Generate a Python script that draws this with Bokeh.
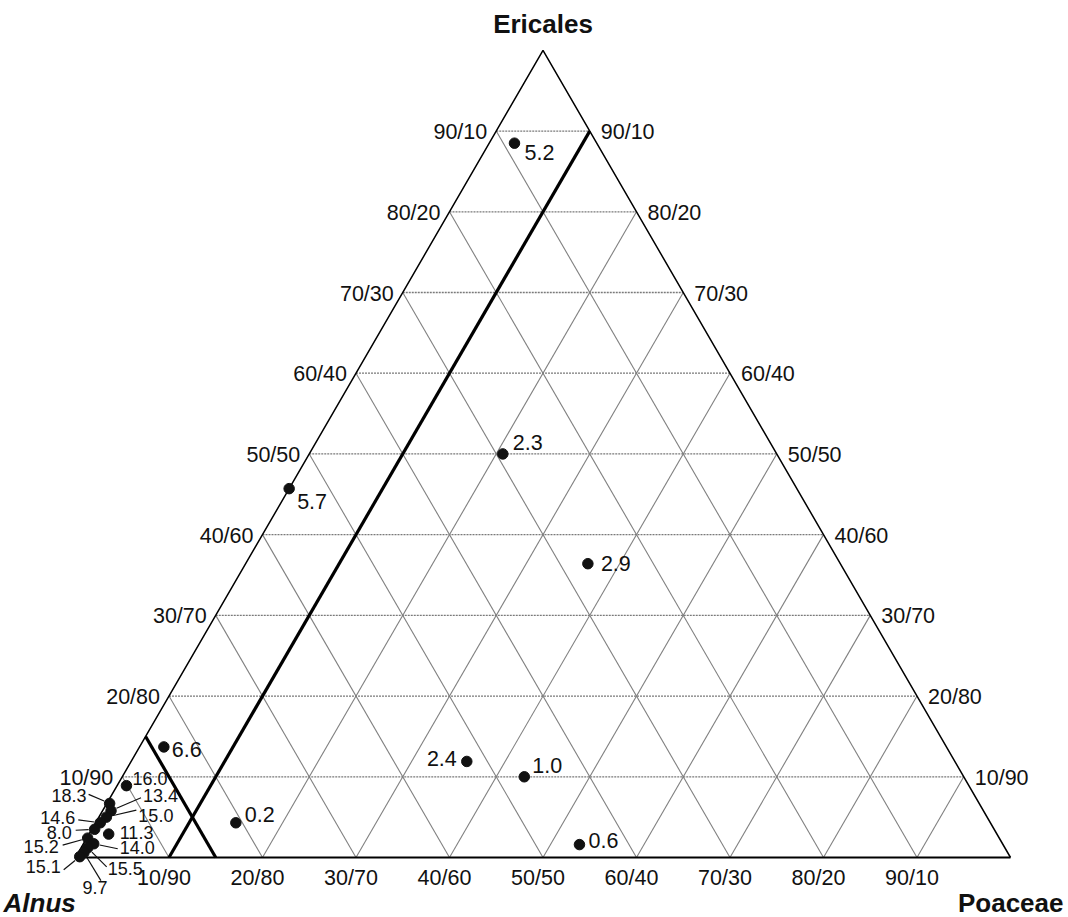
import math
from bokeh.plotting import figure
from bokeh.models import Range1d
from bokeh.core.properties import value
from bokeh.embed import file_html
from bokeh.resources import INLINE

# ---- data: pollen composition (%) of each sample, with its label value ----
main_labels   = ["5.2", "5.7", "2.3", "2.9", "6.6", "0.2", "2.4", "1.0", "0.6"]
main_alnus    = [8.8, 54.3, 29.3, 27.0, 83.7, 80.7, 52.2, 47.0, 45.3]
main_poaceae  = [2.7, 0.0, 20.7, 36.6, 2.6, 15.0, 35.9, 43.0, 53.1]
main_ericales = [88.5, 45.7, 50.0, 36.4, 13.7, 4.3, 11.9, 10.0, 1.6]

# samples crowded near the Alnus corner (labelled with leader lines)
cluster_labels   = ["16.0", "18.3", "13.4", "15.0", "14.6", "8.0",
                    "11.3", "15.2", "14.0", "15.5", "9.7", "15.1"]
cluster_alnus    = [90.1, 93.0, 93.3, 94.2, 95.2, 96.2, 95.0, 97.5, 97.2, 98.1, 98.8, 99.5]
cluster_poaceae  = [1.0, 0.3, 0.9, 0.8, 0.5, 0.3, 2.1, 0.1, 1.1, 0.7, 0.6, 0.4]
cluster_ericales = [8.9, 6.7, 5.8, 5.0, 4.3, 3.5, 2.9, 2.4, 1.7, 1.2, 0.6, 0.1]

# boundary lines
poaceae_limit = 10   # Poaceae = 10 %
alnus_limit = 85     # Alnus = 85 %

grid_steps = [10, 20, 30, 40, 50, 60, 70, 80, 90]
corner_names = ["Alnus", "Poaceae", "Ericales"]

# ---- layout ----
W, H = 1068, 917
SX, SY = 935.0, 932.0          # pixels per unit (x, y)
LEFT_PX, BASE_PX = 75.0, 857.0
FONT = value("Liberation Sans")
INK = "#111111"
SQ3 = math.sqrt(3) / 2


def tern(a, p, e):
    s = a + p + e
    return (p + e / 2.0) / s, (e / s) * SQ3


def shift(pt, dx, dy):
    return pt[0] + dx / SX, pt[1] - dy / SY


p = figure(width=W, height=H, output_backend="svg", toolbar_location=None,
           x_range=Range1d(-LEFT_PX / SX, (W - LEFT_PX) / SX),
           y_range=Range1d(-(H - BASE_PX) / SY, BASE_PX / SY),
           x_axis_type=None, y_axis_type=None, min_border=0)
p.grid.visible = False
p.outline_line_color = None
p.background_fill_color = "white"
p.border_fill_color = "white"

# ---- grid ----
hx0, hy0, hx1, hy1 = [], [], [], []
dx0, dy0, dx1, dy1 = [], [], [], []
for k in grid_steps:
    f = k / 100.0
    a0 = tern(1 - f, 0, f); a1 = tern(0, 1 - f, f)
    hx0.append(a0[0]); hy0.append(a0[1]); hx1.append(a1[0]); hy1.append(a1[1])
    b0 = tern(1 - f, f, 0); b1 = tern(0, f, 1 - f)
    dx0.append(b0[0]); dy0.append(b0[1]); dx1.append(b1[0]); dy1.append(b1[1])
    c0 = tern(f, 1 - f, 0); c1 = tern(f, 0, 1 - f)
    dx0.append(c0[0]); dy0.append(c0[1]); dx1.append(c1[0]); dy1.append(c1[1])

p.segment(x0=dx0, y0=dy0, x1=dx1, y1=dy1, line_color="#808080", line_width=1.1)
p.segment(x0=hx0, y0=hy0, x1=hx1, y1=hy1, line_color="#7a7a7a", line_width=1.3,
          line_dash="2 1")

# ---- triangle ----
va = tern(1, 0, 0); vp = tern(0, 1, 0); ve = tern(0, 0, 1)
p.line([va[0], ve[0], vp[0]], [va[1], ve[1], vp[1]], line_color="black", line_width=1.5)
p.line([va[0], vp[0]], [va[1], vp[1]], line_color="black", line_width=2.2)

# ---- boundary lines ----
fp = poaceae_limit / 100.0
l1a = tern(1 - fp, fp, 0); l1b = tern(0, fp, 1 - fp)
fa = alnus_limit / 100.0
l2a = tern(fa, 1 - fa, 0); l2b = tern(fa, 0, 1 - fa)
p.segment(x0=[l1a[0], l2a[0]], y0=[l1a[1], l2a[1]], x1=[l1b[0], l2b[0]], y1=[l1b[1], l2b[1]],
          line_color="black", line_width=3.2)

# ---- tick labels ----
bx, by, bt = [], [], []
lx, ly, lt = [], [], []
rx, ry, rt = [], [], []
for k in grid_steps:
    f = k / 100.0
    txt = f"{k}/{100 - k}"
    q = shift(tern(1 - f, f, 0), -5, 20); bx.append(q[0]); by.append(q[1]); bt.append(txt)
    q = shift(tern(1 - f, 0, f), -9, 1); lx.append(q[0]); ly.append(q[1]); lt.append(txt)
    q = shift(tern(0, 1 - f, f), 11, 1); rx.append(q[0]); ry.append(q[1]); rt.append(txt)

common = dict(text_font=FONT, text_font_size="21.5px", text_color=INK,
              text_baseline="middle")
p.text(x=bx, y=by, text=bt, text_align="center", **common)
p.text(x=lx, y=ly, text=lt, text_align="right", **common)
p.text(x=rx, y=ry, text=rt, text_align="left", **common)

# ---- corner names ----
q = shift(ve, 0, -26)
p.text(x=[q[0]], y=[q[1]], text=[corner_names[2]], text_align="center", text_baseline="middle",
       text_font=FONT, text_font_size="26px", text_font_style="bold", text_color=INK)
q = shift(va, -72, 45)
p.text(x=[q[0]], y=[q[1]], text=[corner_names[0]], text_align="left", text_baseline="middle",
       text_font=FONT, text_font_size="26px", text_font_style="bold italic", text_color=INK)
q = shift(vp, 53, 45)
p.text(x=[q[0]], y=[q[1]], text=[corner_names[1]], text_align="right", text_baseline="middle",
       text_font=FONT, text_font_size="26px", text_font_style="bold", text_color=INK)

# ---- main samples ----
main_pts = [tern(a, pp, e) for a, pp, e in zip(main_alnus, main_poaceae, main_ericales)]
main_offsets = [(10, 9, "left"), (8, 13, "left"), (10, -11, "left"), (13, 0, "left"),
                (8, 3, "left"), (9, -8, "left"), (-10, -3, "right"), (8, -11, "left"),
                (9, -4, "left")]
p.scatter(x=[q[0] for q in main_pts], y=[q[1] for q in main_pts], size=10.5,
          fill_color=INK, line_color=INK)
for q, lab, (ox, oy, al) in zip(main_pts, main_labels, main_offsets):
    t = shift(q, ox, oy)
    p.text(x=[t[0]], y=[t[1]], text=[lab], text_align=al, text_baseline="middle",
           text_font=FONT, text_font_size="21.5px", text_color=INK)

# ---- crowded samples near Alnus ----
cl_pts = [tern(a, pp, e) for a, pp, e in zip(cluster_alnus, cluster_poaceae, cluster_ericales)]
# (label dx, label dy, align, leader start dx, leader start dy) in pixels
cl_offsets = [(6, -7, "left", None, None), (-23, -8, "right", -21, -9),
              (32, -15, "left", 30, -13), (32, -2, "left", 30, -7),
              (-25, -5, "right", -22, -3), (-23, 3, "right", -19, 1),
              (11, -2, "left", None, None), (-29, 8, "right", -25, 7),
              (26, 4, "left", 24, 5), (20, 21, "left", 19, 19),
              (11, 35, "center", 17, 28), (-19, 10, "right", -16, 13)]
sx0, sy0, sx1, sy1 = [], [], [], []
for q, (ox, oy, al, gx, gy) in zip(cl_pts, cl_offsets):
    if gx is None:
        continue
    n = math.hypot(gx, gy)
    st = shift(q, gx, gy)
    en = shift(q, gx / n * 6, gy / n * 6)
    sx0.append(st[0]); sy0.append(st[1]); sx1.append(en[0]); sy1.append(en[1])
p.segment(x0=sx0, y0=sy0, x1=sx1, y1=sy1, line_color=INK, line_width=1.2)
p.scatter(x=[q[0] for q in cl_pts], y=[q[1] for q in cl_pts], size=10.5,
          fill_color=INK, line_color=INK)
for q, lab, (ox, oy, al, gx, gy) in zip(cl_pts, cluster_labels, cl_offsets):
    t = shift(q, ox, oy)
    p.text(x=[t[0]], y=[t[1]], text=[lab], text_align=al, text_baseline="middle",
           text_font=FONT, text_font_size="18px", text_color=INK)

open("out.html", "w").write(file_html(p, INLINE))
